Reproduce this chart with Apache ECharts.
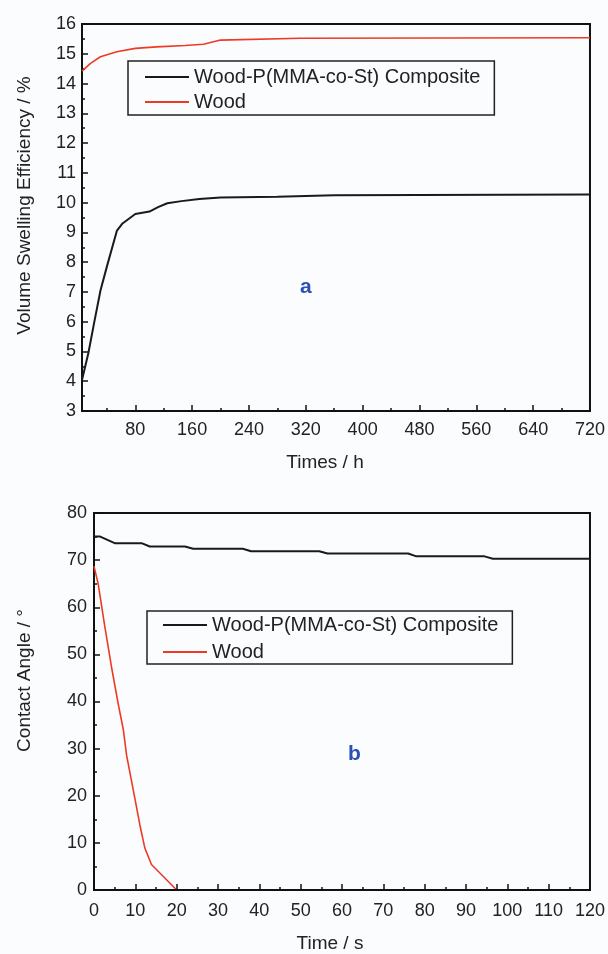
<!DOCTYPE html>
<html>
<head>
<meta charset="utf-8">
<script src="https://cdn.jsdelivr.net/npm/echarts@6/dist/echarts.min.js"></script>
<style>
    html, body { margin: 0; padding: 0; background: #fbfcfd; }
    #chart { width: 608px; height: 954px; }
</style>
</head>
<body>
<div id="chart"></div>
<script>
// (a) volume swelling efficiency vs time (h)
const hoursComposite = [5, 14, 22, 31, 40, 54, 62, 80, 100, 112, 125, 145, 170, 200, 280, 360, 720]
const swellComposite = [4.04, 4.95, 5.95, 7.05, 7.85, 9.05, 9.3, 9.62, 9.7, 9.85, 9.98, 10.05, 10.12, 10.17, 10.2, 10.25, 10.27]
const hoursWood = [5, 17, 31, 54, 80, 110, 150, 176, 200, 312, 720]
const swellWood = [14.42, 14.68, 14.9, 15.07, 15.18, 15.23, 15.28, 15.32, 15.46, 15.52, 15.54]

// (b) contact angle vs time (s)
const secComposite = [0, 1.5, 5, 11.5, 13.5, 22, 24, 36, 38, 54.5, 56.5, 76, 78, 94.5, 96.5, 120]
const angleComposite = [75, 75, 73.6, 73.6, 72.9, 72.9, 72.4, 72.4, 71.9, 71.9, 71.4, 71.4, 70.8, 70.8, 70.3, 70.3]
const secWood = [0, 1, 2.6, 4.3, 5.9, 7.1, 7.9, 9.9, 11.1, 12.3, 13.9, 16.3, 20, 120]
const angleWood = [68.7, 65, 56, 47, 39.3, 34, 28.5, 19.4, 13.8, 8.9, 5.4, 3.3, 0, 0]

const xLabelsA = [80, 160, 240, 320, 400, 480, 560, 640, 720]
const xMinorA = [40, 120, 200, 280, 360, 440, 520, 600, 680]

const NAME_COMPOSITE = 'Wood-P(MMA-co-St) Composite'
const NAME_WOOD = 'Wood'
const FONT = "'Liberation Sans', Arial, sans-serif"
const TEXT = '#222'

const zip = (xs, ys) => xs.map((x, i) => [x, ys[i]])

const chart = echarts.init(document.getElementById('chart'))

const axisLine = { show: true, onZero: false, lineStyle: { color: '#111', width: 2 } }
const axisTick = { show: true, inside: true, length: 6, lineStyle: { color: '#111', width: 1.5 } }
const minorTick = { show: true, splitNumber: 2, length: 3, lineStyle: { color: '#111', width: 1.5 } }
const axisLabel = { color: TEXT, fontSize: 18, fontFamily: FONT, margin: 7 }
const nameStyle = { color: TEXT, fontSize: 19, fontFamily: FONT }

const legendBase = {
    orient: 'vertical',
    icon: 'rect',
    itemWidth: 44,
    itemHeight: 2,
    backgroundColor: 'transparent',
    borderColor: '#222',
    borderWidth: 1.5,
    borderRadius: 0,
    selectedMode: false,
    textStyle: { color: TEXT, fontSize: 20, fontFamily: FONT },
    data: [NAME_COMPOSITE, NAME_WOOD],
}

const option = {
    backgroundColor: '#fbfcfd',
    animation: false,
    grid: [
        { left: 82, top: 24, width: 508, height: 387, show: true, borderColor: '#111', borderWidth: 2, backgroundColor: 'transparent' },
        { left: 94, top: 513, width: 498, height: 381, show: true, borderColor: '#111', borderWidth: 2, backgroundColor: 'transparent' },
    ],
    legend: [
        Object.assign({}, legendBase, { left: 128, top: 61, itemGap: 5, padding: [6, 14, 3, 17] }),
        Object.assign({}, legendBase, { left: 147, top: 611, itemGap: 7, padding: [4, 14, 2, 16] }),
    ],
    xAxis: [
        {
            type: 'value', gridIndex: 0, min: 5, max: 720, position: 'bottom',
            name: 'Times / h', nameLocation: 'middle', nameGap: 42,
            nameTextStyle: Object.assign({}, nameStyle, { padding: [0, 22, 0, 0] }),
            axisLine: axisLine,
            axisTick: Object.assign({}, axisTick, { customValues: xLabelsA }),
            axisLabel: Object.assign({}, axisLabel, { margin: 10, customValues: xLabelsA }),
            splitLine: { show: false },
        },
        {
            // minor ticks of the (a) time axis
            type: 'value', gridIndex: 0, min: 5, max: 720, position: 'bottom', offset: 0,
            axisLine: { show: false },
            axisTick: Object.assign({}, axisTick, { length: 3, customValues: xMinorA }),
            axisLabel: { show: false },
            splitLine: { show: false },
        },
        {
            type: 'value', gridIndex: 1, min: 0, max: 120, interval: 10, position: 'bottom', z: 3,
            name: 'Time / s', nameLocation: 'middle', nameGap: 44,
            nameTextStyle: Object.assign({}, nameStyle, { padding: [0, 24, 0, 0] }),
            axisLine: axisLine, axisTick: axisTick, minorTick: minorTick,
            axisLabel: Object.assign({}, axisLabel, { margin: 12 }),
            splitLine: { show: false },
        },
    ],
    yAxis: [
        {
            type: 'value', gridIndex: 0, min: 3, max: 16, interval: 1,
            name: 'Volume Swelling Efficiency / %', nameLocation: 'middle', nameGap: 48,
            nameTextStyle: Object.assign({}, nameStyle, { padding: [0, 0, 0, 24] }),
            axisLine: axisLine, axisTick: axisTick, minorTick: minorTick,
            axisLabel: Object.assign({}, axisLabel, { margin: 6 }),
            splitLine: { show: false },
        },
        {
            type: 'value', gridIndex: 1, min: 0, max: 80, interval: 10,
            name: 'Contact Angle / °', nameLocation: 'middle', nameGap: 60,
            nameTextStyle: Object.assign({}, nameStyle, { padding: [0, 0, 0, 42] }),
            axisLine: axisLine, axisTick: axisTick, minorTick: minorTick, axisLabel: axisLabel,
            splitLine: { show: false },
        },
    ],
    graphic: [
        { type: 'text', left: 300, top: 277, style: { text: 'a', fill: '#2d4fb3', font: 'bold 21px ' + FONT } },
        { type: 'text', left: 348, top: 744, style: { text: 'b', fill: '#2d4fb3', font: 'bold 21px ' + FONT } },
    ],
    series: [
        {
            name: NAME_COMPOSITE, type: 'line', xAxisIndex: 0, yAxisIndex: 0,
            symbol: 'none', lineStyle: { color: '#1a1a1a', width: 2 }, itemStyle: { color: '#1a1a1a' },
            data: zip(hoursComposite, swellComposite),
        },
        {
            name: NAME_WOOD, type: 'line', xAxisIndex: 0, yAxisIndex: 0,
            symbol: 'none', lineStyle: { color: '#ee3a24', width: 1.6 }, itemStyle: { color: '#ee3a24' },
            data: zip(hoursWood, swellWood),
        },
        {
            name: NAME_COMPOSITE, type: 'line', xAxisIndex: 2, yAxisIndex: 1,
            symbol: 'none', lineStyle: { color: '#1a1a1a', width: 2 }, itemStyle: { color: '#1a1a1a' },
            data: zip(secComposite, angleComposite),
        },
        {
            name: NAME_WOOD, type: 'line', xAxisIndex: 2, yAxisIndex: 1, z: 1,
            symbol: 'none', lineStyle: { color: '#ee3a24', width: 1.6 }, itemStyle: { color: '#ee3a24' },
            data: zip(secWood, angleWood),
        },
    ],
}

chart.setOption(option)
</script>
</body>
</html>
